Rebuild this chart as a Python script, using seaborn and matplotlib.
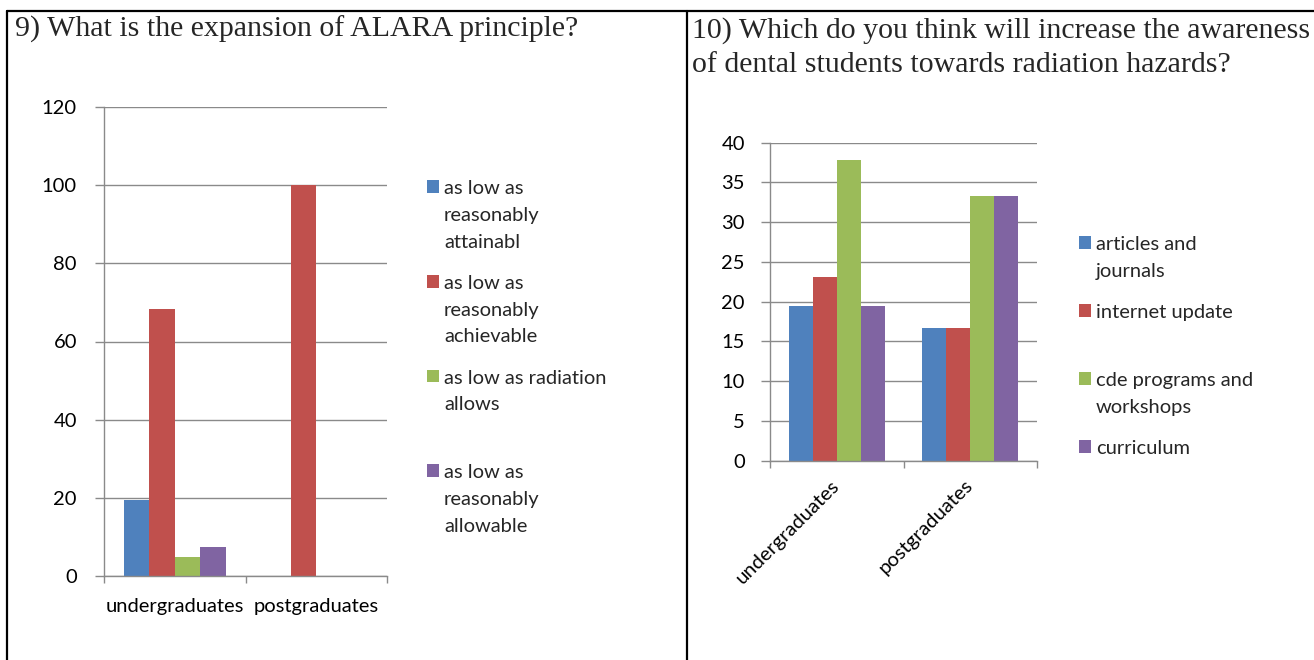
import numpy as np
import pandas as pd
import seaborn as sns
import matplotlib.pyplot as plt
from matplotlib.patches import Patch
from matplotlib.lines import Line2D

# --- data ---
groups = ["undergraduates", "postgraduates"]

alara_options = ["as low as reasonably attainabl", "as low as reasonably achievable",
                 "as low as radiation allows", "as low as reasonably allowable"]
alara_labels = ["as low as\nreasonably\nattainabl", "as low as\nreasonably\nachievable",
                "as low as radiation\nallows\n", "as low as\nreasonably\nallowable"]
alara_ug = [19.5, 68.3, 4.9, 7.3]
alara_pg = [0, 100, 0, 0]

aware_options = ["articles and journals", "internet update",
                 "cde programs and workshops", "curriculum"]
aware_labels = ["articles and\njournals", "internet update\n",
                "cde programs and\nworkshops", "curriculum\n"]
aware_ug = [19.4, 23.1, 37.8, 19.4]
aware_pg = [16.7, 16.7, 33.3, 33.3]

colors = ["#4F81BD", "#C0504D", "#9BBB59", "#8064A2"]
GRID = "#8a8a8a"

sns.set_style("white")
plt.rcParams["font.family"] = ["Lato", "DejaVu Sans"]


def long_df(options, ug, pg):
    rows = []
    for g, vals in zip(groups, [ug, pg]):
        for o, v in zip(options, vals):
            rows.append({"group": g, "option": o, "value": v})
    return pd.DataFrame(rows)


def style_axis(ax, ymax, step, ypad):
    ax.set_ylim(0, ymax)
    ax.set_yticks(np.arange(0, ymax + 1, step))
    ax.set_xlim(-0.5, 1.5)
    ax.set_xlabel("")
    ax.set_ylabel("")
    ax.yaxis.grid(True, color=GRID, lw=1)
    ax.set_axisbelow(True)
    for s in ["top", "right"]:
        ax.spines[s].set_visible(False)
    for s in ["left", "bottom"]:
        ax.spines[s].set_color(GRID)
        ax.spines[s].set_linewidth(1)
    ax.tick_params(axis="y", length=6.5, width=1, color=GRID, pad=ypad,
                   labelsize=14.5, labelcolor="black", left=True)
    ax.set_xticks([-0.5, 0.5, 1.5], minor=True)
    ax.tick_params(axis="x", which="minor", length=4.7, width=1, color=GRID, bottom=True)
    ax.tick_params(axis="x", which="major", length=0, labelsize=14.5, labelcolor="black")


def add_legend(ax, labels, x, y):
    handles = [Patch(facecolor=c, edgecolor="none") for c in colors]
    leg = ax.legend(handles, labels, loc="upper left", bbox_to_anchor=(x, y),
                    bbox_transform=ax.figure.transFigure, frameon=False,
                    borderpad=0, borderaxespad=0, handlelength=0.6, handleheight=0.6,
                    handletextpad=0.25, labelspacing=1.2, fontsize=14.5)
    for t in leg.get_texts():
        t.set_linespacing(1.7)
    # put the colour box next to the first line of each label
    for col in leg._legend_handle_box.get_children():
        for item in col.get_children():
            item.align = "top"
    return leg


fig = plt.figure(figsize=(13.14, 6.6), dpi=100)

# left panel
ax1 = fig.add_axes([104 / 1314, 84 / 660, 283 / 1314, 469 / 660])
sns.barplot(data=long_df(alara_options, alara_ug, alara_pg), x="group", y="value",
            hue="option", palette=colors, saturation=1, width=0.72, gap=0,
            errorbar=None, linewidth=0, legend=False, ax=ax1)
style_axis(ax1, 120, 20, 13)
ax1.tick_params(axis="x", which="major", pad=16)
add_legend(ax1, alara_labels, 427 / 1314, 1 - 180 / 660)

# right panel
ax2 = fig.add_axes([770 / 1314, (660 - 460.7) / 660, 267 / 1314, 318 / 660])
sns.barplot(data=long_df(aware_options, aware_ug, aware_pg), x="group", y="value",
            hue="option", palette=colors, saturation=1, width=0.72, gap=0,
            errorbar=None, linewidth=0, legend=False, ax=ax2)
style_axis(ax2, 40, 5, 11.5)
ax2.tick_params(axis="x", which="major", pad=16)
for lbl in ax2.get_xticklabels():
    lbl.set_rotation(45)
    lbl.set_ha("right")
    lbl.set_va("center")
    lbl.set_rotation_mode("anchor")
add_legend(ax2, aware_labels, 1079 / 1314, 1 - 236 / 660)

# question titles
title_kw = dict(family="Liberation Serif", fontsize=21.5, ha="left", va="baseline")
fig.text(15 / 1314, 1 - 37 / 660, "9) What is the expansion of ALARA principle?", **title_kw)
fig.text(692 / 1314, 1 - 38 / 660, "10) Which do you think will increase the awareness", **title_kw)
fig.text(692 / 1314, 1 - 72 / 660, "of dental students towards radiation hazards?", **title_kw)

# table borders
for xs, ys in [([7 / 1314, 1], [1 - 11 / 660] * 2),
               ([7 / 1314] * 2, [0, 1 - 11 / 660]),
               ([687 / 1314] * 2, [0, 1 - 11 / 660])]:
    fig.add_artist(Line2D(xs, ys, transform=fig.transFigure, color="black", lw=1.6))

fig.savefig("out.png", dpi=100, facecolor="white")
